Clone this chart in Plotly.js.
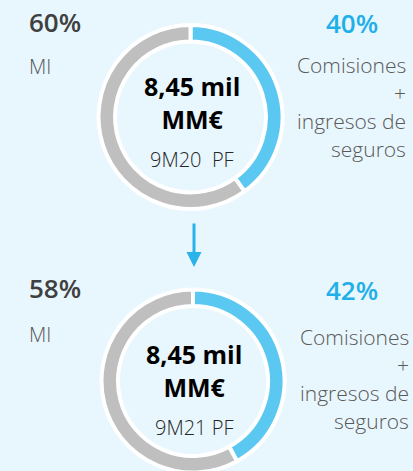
<!DOCTYPE html>
<html>
<head>
<meta charset="utf-8">
<script src="https://cdn.plot.ly/plotly-3.0.1.min.js"></script>
<style>
html,body{margin:0;padding:0;background:#e8f6fd;overflow:hidden;width:413px;height:471px;}
#chart{width:413px;height:490px;}
</style>
</head>
<body>
<div id="chart"></div>
<script>
// ---- data ----
const periods = ['9M20\u00a0\u00a0PF', '9M21 PF'];
const categories = ['Comisiones + ingresos de seguros', 'MI'];
const shareComisiones = [40, 42];
const shareMI = [60, 58];
const totalLabel = ['8,45 mil<br>MM€', '8,45 mil<br>MM€'];
const leftLabel = 'MI';
const rightLines = ['Comisiones', '+', 'ingresos de', 'seguros'];

// ---- styling ----
const W = 413, H = 490;
const BLUE = '#5bc8f2', GREY = '#bfbfbf', PCT_BLUE = '#1fb0ea', DARK = '#404040', MID = '#595959';
const FONT = '"Open Sans", sans-serif';
const px = v => v / W;
const py = v => 1 - v / H;

// donut geometry (pixels)
const donuts = [{cx: 190.5, cy: 117, r: 92}, {cx: 193, cy: 381, r: 91.5}];

const traces = donuts.map((d, i) => ({
  type: 'pie',
  values: [shareComisiones[i], shareMI[i]],
  labels: categories,
  sort: false,
  direction: 'clockwise',
  rotation: 0,
  hole: 0.82,
  textinfo: 'none',
  hoverinfo: 'label+percent',
  showlegend: false,
  marker: {colors: [BLUE, GREY], line: {color: '#ffffff', width: 4}},
  domain: {x: [px(d.cx - d.r), px(d.cx + d.r)], y: [py(d.cy + d.r), py(d.cy - d.r)]}
}));

const ann = [];
const rows = [
  {pctY: 22, pct2Y: 23, miY: 66, rightX: 408, lines: [65, 93, 121, 149], c1: 102, c2: 159},
  {pctY: 288, pct2Y: 290, miY: 334, rightX: 411, lines: [337, 365, 393, 421], c1: 370, c2: 427}
];
rows.forEach((r, i) => {
  const d = donuts[i];
  ann.push({x: px(27), y: py(r.pctY), xanchor: 'left', yanchor: 'middle', showarrow: false,
    text: shareMI[i] + '%', font: {family: FONT, size: 26, color: DARK, weight: 600}});
  ann.push({x: px(27), y: py(r.miY), xanchor: 'left', yanchor: 'middle', showarrow: false,
    text: leftLabel, font: {family: FONT, size: 20, color: MID, weight: 300}});
  ann.push({x: px(352), y: py(r.pct2Y), xanchor: 'center', yanchor: 'middle', showarrow: false,
    text: shareComisiones[i] + '%', font: {family: FONT, size: 26, color: PCT_BLUE, weight: 600}});
  rightLines.forEach((t, k) => {
    ann.push({x: px(r.rightX), y: py(r.lines[k]), xanchor: 'right', yanchor: 'middle', showarrow: false,
      text: t, font: {family: FONT, size: 21, color: MID, weight: 300}});
  });
  ann.push({x: px(d.cx + 1), y: py(r.c1), xanchor: 'center', yanchor: 'middle', showarrow: false,
    text: totalLabel[i], font: {family: FONT, size: 25, color: '#000000', weight: 700}});
  ann.push({x: px(d.cx + 1), y: py(r.c2), xanchor: 'center', yanchor: 'middle', showarrow: false,
    text: periods[i], font: {family: FONT, size: 20, color: '#262626', weight: 300}});
});

// arrow between the two donuts
ann.push({x: px(194), y: py(267), ax: 0, ay: -45, text: '',
  showarrow: true, arrowhead: 2, arrowsize: 1, arrowwidth: 3, arrowcolor: '#29b3ea', standoff: 0});

const layout = {
  width: W, height: H,
  margin: {l: 0, r: 0, t: 0, b: 0},
  paper_bgcolor: '#e8f6fd',
  plot_bgcolor: '#e8f6fd',
  font: {family: FONT},
  annotations: ann
};

Plotly.newPlot('chart', traces, layout, {displayModeBar: false, staticPlot: true});
</script>
</body>
</html>
